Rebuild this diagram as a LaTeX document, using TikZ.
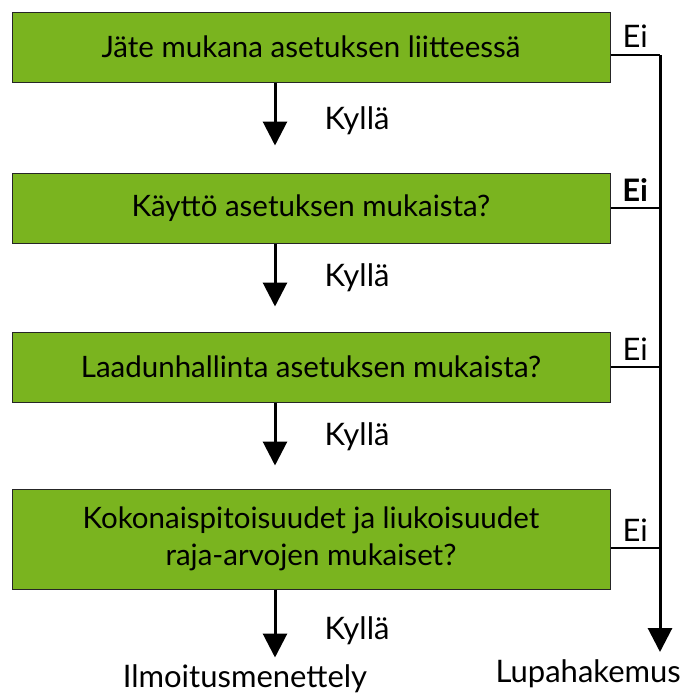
\documentclass[tikz,border=0pt]{standalone}
\usepackage{fontspec}
\setmainfont{Lato}
\usetikzlibrary{positioning,arrows.meta}
\definecolor{leafgreen}{HTML}{7AB41F}
\tikzset{
    check/.style ={
        shape=rectangle,
        draw=black!85,
        fill=leafgreen,
        line width=1pt,
        minimum width=598pt,
        minimum height=70pt,
        align=center,
        font=\fontsize{29.5}{37}\selectfont
    },
    yes/.style ={
        line width=3pt,
        -{Triangle[width=24pt,length=24pt]}
    },
    no/.style ={
        line width=2pt
    },
    answer/.style ={
        font=\fontsize{31}{36}\selectfont,
        inner sep=1pt
    }
}

\begin{document}
\begin{tikzpicture}[x=1pt,y=1pt]
    \useasboundingbox (0,0) rectangle (683,-699);
    \node[check] (liite) at (311,-47) {Jäte mukana asetuksen liitteessä};
    \node[check,below=90pt of liite] (kaytto) {Käyttö asetuksen mukaista?};
    \node[check,below=88pt of kaytto] (laatu) {Laadunhallinta asetuksen mukaista?};
    \node[check,below=86pt of laatu,minimum height=100pt] (raja) {Kokonaispitoisuudet ja liukoisuudet\\raja-arvojen mukaiset?};
    % kyllä-haarat
    \coordinate[below=63pt of liite.south,xshift=-36pt] (k1);
    \coordinate[below=63pt of kaytto.south,xshift=-36pt] (k2);
    \coordinate[below=63pt of laatu.south,xshift=-36pt] (k3);
    \coordinate[below=68pt of raja.south,xshift=-36pt] (k4);
    \draw[yes] (liite.south -| k1) -- (k1) node[answer,pos=0.6,right=47pt] (y1) {Kyllä};
    \draw[yes] (kaytto.south -| k2) -- (k2) node[answer,pos=0.55,right=47pt] (y2) {Kyllä};
    \draw[yes] (laatu.south -| k3) -- (k3) node[answer,pos=0.55,right=47pt] (y3) {Kyllä};
    \draw[yes] (raja.south -| k4) -- (k4) node[answer,pos=0.6,right=47pt] (y4) {Kyllä};
    \node[answer,below=6pt of k4,xshift=-30pt] (ilmo) {Ilmoitusmenettely};
    % ei-haarat
    \coordinate (eitop) at (660,-55);
    \coordinate (eiend) at (660,-652);
    \draw[yes] (eitop) -- (eiend);
    \node[answer,anchor=north east] (lupa) at ([xshift=22pt,yshift=-6pt]eiend) {Lupahakemus};
    \draw[no] ([yshift=-8pt]liite.east) -- (eitop) node[answer,midway,above=6pt] (e1) {Ei};
    \draw[no] (kaytto.east) -- (kaytto.east -| eitop) node[answer,midway,above=5pt] (e2) {\textbf{Ei}};
    \draw[no] (laatu.east) -- (laatu.east -| eitop) node[answer,midway,above=5pt] (e3) {Ei};
    \draw[no] ([yshift=-9pt]raja.east) -- ([yshift=-9pt]raja.east -| eitop) node[answer,midway,above=5pt] (e4) {Ei};
\end{tikzpicture}
\end{document}
